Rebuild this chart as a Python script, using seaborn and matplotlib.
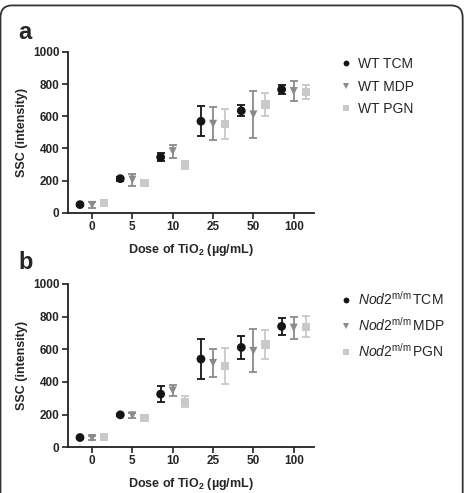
import numpy as np
import pandas as pd
import matplotlib
matplotlib.use("Agg")
import matplotlib.pyplot as plt
from matplotlib.patches import FancyBboxPatch
from matplotlib.lines import Line2D
import seaborn as sns

sns.set_theme(style="ticks")
plt.rcParams['font.family'] = ['Liberation Sans', 'DejaVu Sans']
plt.rcParams['mathtext.fontset'] = 'custom'
plt.rcParams['mathtext.rm'] = 'Liberation Sans'
plt.rcParams['mathtext.it'] = 'Liberation Sans:italic'
plt.rcParams['mathtext.bf'] = 'Liberation Sans:bold'

doses = ['0', '5', '10', '25', '50', '100']
treatments = ['TCM', 'MDP', 'PGN']

# panel a: WT
wt_tcm = [52, 213, 346, 569, 634, 766]
wt_tcm_sd = [9, 12, 24, 93, 33, 29]
wt_mdp = [50, 207, 383, 553, 611, 756]
wt_mdp_sd = [17, 37, 41, 103, 143, 62]
wt_pgn = [62, 188, 296, 554, 673, 748]
wt_pgn_sd = [8, 10, 25, 94, 72, 43]

# panel b: Nod2 m/m
nod_tcm = [59, 198, 325, 540, 611, 740]
nod_tcm_sd = [6, 5, 48, 120, 68, 51]
nod_mdp = [56, 195, 347, 516, 590, 732]
nod_mdp_sd = [14, 17, 36, 87, 131, 67]
nod_pgn = [61, 180, 277, 497, 629, 737]
nod_pgn_sd = [6, 20, 34, 110, 87, 64]

colors = {'TCM': '#151515', 'MDP': '#8a8a8a', 'PGN': '#c9c9c9'}
markers = {'TCM': 'o', 'MDP': 'v', 'PGN': 's'}
msize = {'TCM': 40, 'MDP': 34, 'PGN': 34}
offsets = {'TCM': -0.3, 'MDP': 0.0, 'PGN': 0.3}


def make_df(tcm, tcm_sd, mdp, mdp_sd, pgn, pgn_sd):
    rows = []
    for t, m, s in [('TCM', tcm, tcm_sd), ('MDP', mdp, mdp_sd), ('PGN', pgn, pgn_sd)]:
        for i, d in enumerate(doses):
            rows.append({'dose': d, 'treat': t, 'mean': m[i], 'sd': s[i],
                         'x': i + offsets[t]})
    return pd.DataFrame(rows)


def draw(ax, df, labels):
    for t in treatments:
        sub = df[df['treat'] == t]
        ax.errorbar(sub['x'], sub['mean'], yerr=sub['sd'], fmt='none',
                    ecolor=colors[t], elinewidth=1.3, capsize=3.2, capthick=1.3,
                    clip_on=False, zorder=2)
    sns.scatterplot(data=df, x='x', y='mean', hue='treat', style='treat',
                    palette=colors, markers=markers, size='treat', sizes=msize,
                    linewidth=0, legend=False, ax=ax, clip_on=False, zorder=3)
    ax.set_xlim(-0.6, 5.5)
    ax.set_ylim(0, 1000)
    ax.set_xticks(range(len(doses)))
    ax.set_xticklabels(doses)
    ax.set_yticks([0, 200, 400, 600, 800, 1000])
    for lab in ax.get_xticklabels() + ax.get_yticklabels():
        lab.set_fontweight('bold')
        lab.set_fontsize(8.5)
    ax.tick_params(axis='both', length=4, width=1.2, color='#222222', pad=2)
    for sp in ['left', 'bottom']:
        ax.spines[sp].set_linewidth(1.3)
        ax.spines[sp].set_color('#222222')
    sns.despine(ax=ax)
    ax.set_ylabel('SSC (intensity)', fontsize=9, fontweight='bold', labelpad=4)
    ax.set_xlabel(r'Dose of TiO$_\mathbf{2}$ (µg/mL)', fontsize=9,
                  fontweight='bold', labelpad=6)
    handles = [Line2D([], [], linestyle='none', marker=markers[t],
                      markerfacecolor=colors[t], markeredgewidth=0,
                      markersize=4.2) for t in treatments]
    ax.legend(handles, labels, loc='upper left', bbox_to_anchor=(1.08, 1.0),
              frameon=False, fontsize=10, handletextpad=0.35,
              labelspacing=0.6, handlelength=1.0, borderaxespad=0)


fig = plt.figure(figsize=(4.65, 4.93), dpi=100)
ax_a = fig.add_axes([0.146, 0.568, 0.529, 0.327])
ax_b = fig.add_axes([0.146, 0.093, 0.529, 0.331])

draw(ax_a, make_df(wt_tcm, wt_tcm_sd, wt_mdp, wt_mdp_sd, wt_pgn, wt_pgn_sd),
     ['WT TCM', 'WT MDP', 'WT PGN'])
draw(ax_b, make_df(nod_tcm, nod_tcm_sd, nod_mdp, nod_mdp_sd, nod_pgn, nod_pgn_sd),
     [r'$\mathit{Nod2}^{\mathrm{m/m}}\,$TCM', r'$\mathit{Nod2}^{\mathrm{m/m}}\,$MDP',
      r'$\mathit{Nod2}^{\mathrm{m/m}}\,$PGN'])

fig.text(0.04, 0.935, 'a', fontsize=17, fontweight='bold', va='center')
fig.text(0.04, 0.467, 'b', fontsize=17, fontweight='bold', va='center')

frame = FancyBboxPatch((0.001, -0.05), 0.994, 1.04 - 0.001,
                       boxstyle='round,pad=0,rounding_size=0.025',
                       transform=fig.transFigure, fill=False,
                       edgecolor='#333333', linewidth=1.3)
fig.patches.append(frame)

fig.savefig('out.png', dpi=100)
